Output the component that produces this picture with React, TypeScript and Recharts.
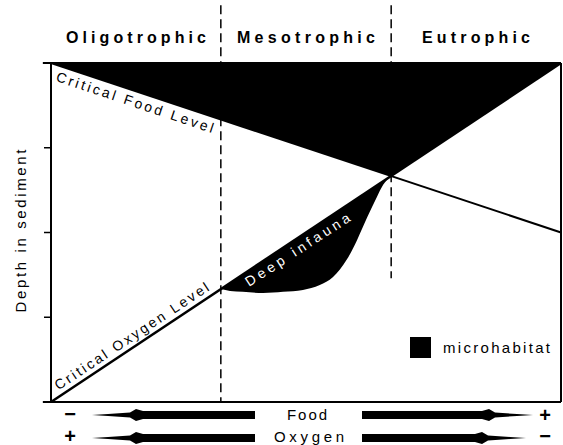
import React from 'react';
import { ComposedChart, Area, Line, XAxis, YAxis, ReferenceLine } from 'recharts';

// x = position along the food gradient (0 = oligotrophic edge, 1 = eutrophic edge)
// depth = depth in sediment (0 = sediment surface, 4 = bottom of the frame)
const zoneNames = ['Oligotrophic', 'Mesotrophic', 'Eutrophic'];
const zoneBounds = [0.333, 0.667];
const zoneBoundEnds = [4, 2.54];

const foodX = [0, 1];
const foodDepth = [0, 2];

const oxygenX = [0, 1];
const oxygenDepth = [4, 0];

// black wedge above both critical levels
const wedgeX = [0, 0.667, 1];
const wedgeDepth = [0, 1.333, 0];

// lower edge of the "deep infauna" microhabitat
const infaunaX = [0.333, 0.351, 0.376, 0.416, 0.455, 0.494, 0.527, 0.553, 0.58, 0.6, 0.62, 0.639, 0.651, 0.667];
const infaunaDepth = [2.667, 2.69, 2.7, 2.714, 2.7, 2.678, 2.62, 2.525, 2.32, 2.09, 1.82, 1.58, 1.44, 1.333];

const depthTicks = [1, 2, 3];

const W = 563;
const H = 445;
const Y_AXIS_W = 8;
const M = { top: 63, right: 2, bottom: 43, left: 51 - Y_AXIS_W };
const plotLeft = 51;
const plotW = W - plotLeft - M.right;

const pick = (xs: number[], ys: number[], x: number) => {
  const i = xs.indexOf(x);
  return i >= 0 ? ys[i] : null;
};

const allX = Array.from(new Set([...foodX, ...oxygenX, ...wedgeX, ...infaunaX])).sort((a, b) => a - b);
const rows = allX.map(x => ({
  x,
  food: pick(foodX, foodDepth, x),
  oxygen: pick(oxygenX, oxygenDepth, x),
  wedge: pick(wedgeX, wedgeDepth, x),
  infauna: pick(infaunaX, infaunaDepth, x),
}));

const font = '"Liberation Sans", Arial, Helvetica, sans-serif';

// tapered arrow, tip at `tip`, thick tail ending at `tail`
const arrowPath = (tip: number, tail: number, y: number) => {
  const d = tail > tip ? 1 : -1;
  const prof: [number, number][] = [[0, 0], [16, 1], [38, 2.5], [44, 6], [51, 4]];
  const top = prof.map(([o, h]) => `${tip + d * o},${y - h}`);
  const bot = prof.slice().reverse().map(([o, h]) => `${tip + d * o},${y + h}`);
  return `M${top.join(' L')} L${tail},${y - 4} L${tail},${y + 4} L${bot.join(' L')} Z`;
};

const Annotations = () => (
  <svg width={W} height={H} style={{ position: 'absolute', left: 0, top: 0, pointerEvents: 'none' }}>
    <g fontFamily={font}>
      {zoneNames.map((z, i) => (
        <text key={z} x={plotLeft + (plotW * (i + 0.5)) / 3} y={43} textAnchor="middle" fontSize={16} fontWeight="bold"
          textLength={[140, 138, 108][i]} lengthAdjust="spacing">{z}</text>
      ))}
      <text transform="translate(26,231) rotate(-90)" textAnchor="middle" fontSize={15} textLength={163} lengthAdjust="spacing">
        Depth in sediment
      </text>
      <text transform="translate(58,66) rotate(18.43)" x={2} y={15} fontSize={14} textLength={165} lengthAdjust="spacing">
        Critical Food Level
      </text>
      <text transform="translate(58,397) rotate(-33.6)" x={4} y={-5} fontSize={14} textLength={182} lengthAdjust="spacing">
        Critical Oxygen Level
      </text>
      <text transform="translate(249,287) rotate(-33)" fontSize={14} fill="#fff" textLength={122} lengthAdjust="spacing">
        Deep infauna
      </text>
      <rect x={410} y={337} width={21} height={21} fill="#000" />
      <text x={443} y={353} fontSize={15} textLength={107} lengthAdjust="spacing">microhabitat</text>

      <text x={70} y={421} fontSize={20} fontWeight="bold" textAnchor="middle">−</text>
      <text x={70} y={443} fontSize={20} fontWeight="bold" textAnchor="middle">+</text>
      <text x={545} y={422} fontSize={20} fontWeight="bold" textAnchor="middle">+</text>
      <text x={545} y={443} fontSize={20} fontWeight="bold" textAnchor="middle">−</text>
      <path d={arrowPath(92, 255, 415)} fill="#000" />
      <path d={arrowPath(533, 362, 415)} fill="#000" />
      <path d={arrowPath(92, 255, 438)} fill="#000" />
      <path d={arrowPath(526, 362, 438)} fill="#000" />
      <text x={307} y={420} fontSize={15} textAnchor="middle" textLength={40} lengthAdjust="spacing">Food</text>
      <text x={309} y={442} fontSize={15} textAnchor="middle" textLength={70} lengthAdjust="spacing">Oxygen</text>
    </g>
  </svg>
);

export default function App() {
  return (
    <div style={{ position: 'absolute', left: 0, top: 0, width: W, height: H, background: '#fff' }}>
      <ComposedChart width={W} height={H} data={rows} margin={M}>
        <XAxis type="number" dataKey="x" domain={[0, 1]} hide />
        <YAxis type="number" domain={[0, 4]} reversed width={Y_AXIS_W} ticks={depthTicks} interval={0}
          tickFormatter={() => ''} tickSize={7}
          axisLine={{ stroke: '#000', strokeWidth: 2 }} tickLine={{ stroke: '#000', strokeWidth: 1.5 }} />
        <Area dataKey="infauna" type="monotone" baseValue={0} fill="#000" fillOpacity={1} stroke="none"
          connectNulls isAnimationActive={false} />
        <Area dataKey="oxygen" type="linear" baseValue={0} fill="#fff" fillOpacity={1} stroke="#000" strokeWidth={2.5}
          connectNulls isAnimationActive={false} />
        <Area dataKey="wedge" type="linear" baseValue={0} fill="#000" fillOpacity={1} stroke="none"
          connectNulls isAnimationActive={false} />
        <Line dataKey="food" type="linear" stroke="#000" strokeWidth={2} dot={false} connectNulls isAnimationActive={false} />
        {zoneBounds.map((b, i) => (
          <ReferenceLine key={b} segment={[{ x: b, y: -0.68 }, { x: b, y: zoneBoundEnds[i] }]} ifOverflow="visible"
            stroke="#000" strokeWidth={1.5} strokeDasharray="9 5" />
        ))}
        <ReferenceLine segment={[{ x: -0.016, y: 0 }, { x: 1, y: 0 }]} ifOverflow="visible" stroke="#000" strokeWidth={2} />
        <ReferenceLine segment={[{ x: -0.016, y: 4 }, { x: 1, y: 4 }]} ifOverflow="visible" stroke="#000" strokeWidth={2} />
        <ReferenceLine x={1} stroke="#000" strokeWidth={2} />
      </ComposedChart>
      <Annotations />
    </div>
  );
}
